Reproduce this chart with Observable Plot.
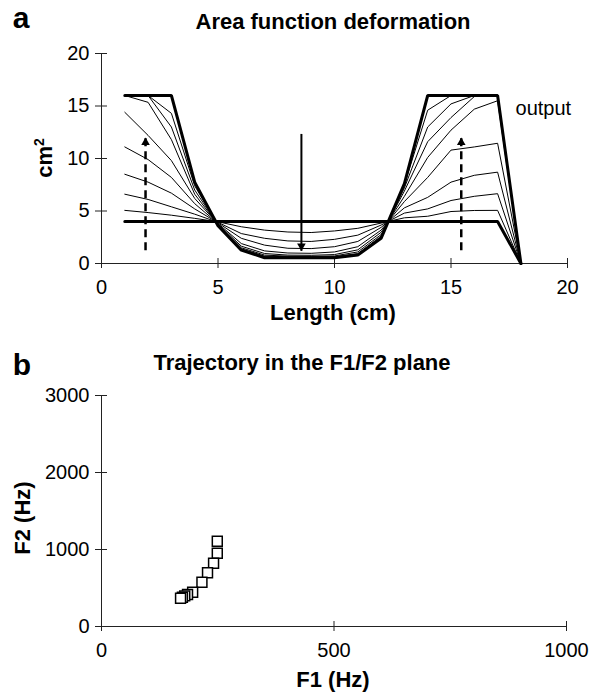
<!DOCTYPE html>
<html><head><meta charset="utf-8">
<script src="https://cdn.jsdelivr.net/npm/d3@7"></script>
<script src="https://cdn.jsdelivr.net/npm/@observablehq/plot@0.6"></script>
<style>
body{margin:0;background:#fff;}
#wrap{position:relative;width:589px;height:695px;font-family:"Liberation Sans",Arial,sans-serif;color:#000;overflow:hidden;}
.t{position:absolute;white-space:nowrap;font-weight:bold;line-height:1;transform:translate(-50%,-50%);}
.r{transform:translate(-50%,-50%) rotate(-90deg);}
.panel{position:absolute;left:0;}
sup{font-size:14px;vertical-align:0.55em;line-height:0;}
</style></head><body><div id="wrap"></div>
<script>
// ---------- Panel a data (area in cm², sections at 1 cm) ----------
const sections    = [1,2,3,4,5,6,7,8,9,10,11,12,13,14,15,16,17,18];
const uniformArea = [4,4,4,4,4,4,4,4,4,4,4,4,4,4,4,4,4,0];
const targetArea  = [16,16,16,7.75,3.6,1.27,0.55,0.55,0.55,0.55,0.8,2.4,7.6,16,16,16,16,0];
const step0 = [5.06,4.85,4.6,4.3,3.97,3.5,3.18,3.0,2.95,3.1,3.35,3.85,4.35,4.5,4.95,5.05,5.06,0];
const step1 = [6.6,6.1,5.4,4.7,3.92,2.85,2.4,2.15,2.1,2.3,2.7,3.66,4.8,5.2,6.0,6.4,6.65,0];
const step2 = [8.5,7.75,6.7,5.2,3.87,2.4,1.75,1.45,1.42,1.6,2.1,3.44,5.3,6.3,7.75,8.4,8.7,0];
const step3 = [11.1,9.9,8.2,5.7,3.81,1.9,1.2,1.0,0.97,1.1,1.6,3.18,5.9,8.2,10.8,11.1,11.45,0];
const step4 = [14.4,12.2,9.8,6.2,3.76,1.65,0.95,0.8,0.78,0.85,1.3,2.97,6.4,10.1,12.7,14.7,15.5,0];
const step5 = [16,15.35,11.8,6.6,3.71,1.5,0.8,0.7,0.68,0.72,1.1,2.75,6.9,11.6,13.9,15.9,16,0];
const step6 = [16,16,13.0,7.0,3.67,1.4,0.7,0.64,0.62,0.65,0.95,2.6,7.2,13.0,15.2,16,16,0];
const step7 = [16,16,14.3,7.4,3.62,1.33,0.62,0.6,0.58,0.6,0.88,2.5,7.5,14.6,16,16,16,0];
const xTicksA = [0,5,10,15,20];
const yTicksA = [0,5,10,15,20];
const arrowDownX = [8.58], arrowDownFrom = [12.34], arrowDownTo = [1.2];
const arrowUpX = [1.89,15.44], arrowUpFrom = [1.27,1.27], arrowUpTo = [12.0,12.0];
const outputLabel = ["output"], outputX = [17.77], outputY = [14.8];

// ---------- Panel b data (Hz) ----------
const F1 = [249,249,241,228,216,196,185,179,174,170];
const F2 = [1108,952,822,697,575,445,416,398,381,368];
const xTicksB = [0,500,1000];
const yTicksB = [0,1000,2000,3000];

const FONT = '"Liberation Sans",Arial,sans-serif';
const toLong = (arrs) => arrs.flatMap(([name, arr]) => arr.map((a,i) => ({curve:name, x:sections[i], a})));
const thin = toLong([["s0",step0],["s1",step1],["s2",step2],["s3",step3],["s4",step4],["s5",step5],["s6",step6],["s7",step7]]);
const thick = toLong([["uniform",uniformArea],["target",targetArea]]);
const down = arrowDownX.map((x,i)=>({x, from:arrowDownFrom[i], to:arrowDownTo[i]}));
const up = arrowUpX.map((x,i)=>({x, from:arrowUpFrom[i], to:arrowUpTo[i]}));
const outp = outputLabel.map((t,i)=>({t, x:outputX[i], y:outputY[i]}));

function axes(xt, yt) {
  const fmt = d => String(d);
  return [
    Plot.ruleX([0], {stroke:"#222", strokeWidth:1}),
    Plot.ruleY([0], {stroke:"#222", strokeWidth:1}),
    Plot.axisY({ticks: yt, tickSize: 6, tickPadding: 6, tickFormat: fmt, label: null, fontSize: 20, stroke:"#222"}),
    Plot.axisY({ticks: yt, tickSize: -6, tickFormat: () => "", label: null, stroke:"#222"}),
    Plot.axisX({ticks: xt, tickSize: 5, tickPadding: 11, tickFormat: fmt, label: null, fontSize: 20, stroke:"#222"}),
    Plot.axisX({ticks: xt, tickSize: -5, tickFormat: () => "", label: null, stroke:"#222"})
  ];
}

const plotA = Plot.plot({
  width: 589, height: 330,
  marginLeft: 101, marginRight: 22, marginTop: 53, marginBottom: 67,
  x: {domain: [0,20]}, y: {domain: [0,20]},
  style: {fontFamily: FONT, fontSize: "20px", color: "#000", background: "transparent", overflow: "visible"},
  marks: [
    ...axes(xTicksA, yTicksA),
    Plot.line(thin, {x:"x", y:"a", z:"curve", stroke:"black", strokeWidth:1}),
    Plot.line(thick, {x:"x", y:"a", z:"curve", stroke:"black", strokeWidth:3, strokeLinejoin:"miter"}),
    Plot.link(down, {x1:"x", x2:"x", y1:"from", y2:"to", stroke:"black", strokeWidth:2}),
    Plot.dot(down, {x:"x", y:"to", symbol:"triangle", rotate:180, r:3.2, fill:"black", stroke:null, dy:-5}),
    Plot.link(up, {x1:"x", x2:"x", y1:"from", y2:"to", stroke:"black", strokeWidth:2.5, strokeDasharray:"8,5"}),
    Plot.dot(up, {x:"x", y:"to", symbol:"triangle", r:3.2, fill:"black", stroke:null, dy:5}),
    Plot.text(outp, {x:"x", y:"y", text:"t", textAnchor:"start", fontSize:20, fill:"black"})
  ]
});

const plotB = Plot.plot({
  width: 589, height: 355,
  marginLeft: 101, marginRight: 23, marginTop: 55, marginBottom: 69,
  x: {domain: [0,1000]}, y: {domain: [0,3000]},
  style: {fontFamily: FONT, fontSize: "20px", color: "#000", background: "transparent", overflow: "visible"},
  marks: [
    ...axes(xTicksB, yTicksB),
    Plot.dot(F1.map((f,i)=>({f1:f, f2:F2[i]})), {x:"f1", y:"f2", symbol:"square", r:5.6, fill:"white", stroke:"black", strokeWidth:1.5})
  ]
});

const wrap = document.getElementById("wrap");
plotA.classList.add("panel"); plotA.style.top = "0px";
plotB.classList.add("panel"); plotB.style.top = "340px";
wrap.appendChild(plotA); wrap.appendChild(plotB);

const labels = [
  {html:"a", x:21, y:18, size:30, cls:""},
  {html:"Area function deformation", x:333, y:22, size:22, cls:""},
  {html:"cm<sup>2</sup>", x:45, y:158, size:22, cls:"r"},
  {html:"Length (cm)", x:333, y:313, size:22, cls:""},
  {html:"b", x:22, y:365, size:30, cls:""},
  {html:"Trajectory in the F1/F2 plane", x:302, y:363, size:22, cls:""},
  {html:"F2 (Hz)", x:23, y:518, size:22, cls:"r"},
  {html:"F1 (Hz)", x:333, y:680, size:22, cls:""}
];
for (const l of labels) {
  const d = document.createElement("div");
  d.className = "t " + l.cls;
  d.style.left = l.x + "px"; d.style.top = l.y + "px"; d.style.fontSize = l.size + "px";
  d.innerHTML = l.html;
  wrap.appendChild(d);
}
</script></body></html>
